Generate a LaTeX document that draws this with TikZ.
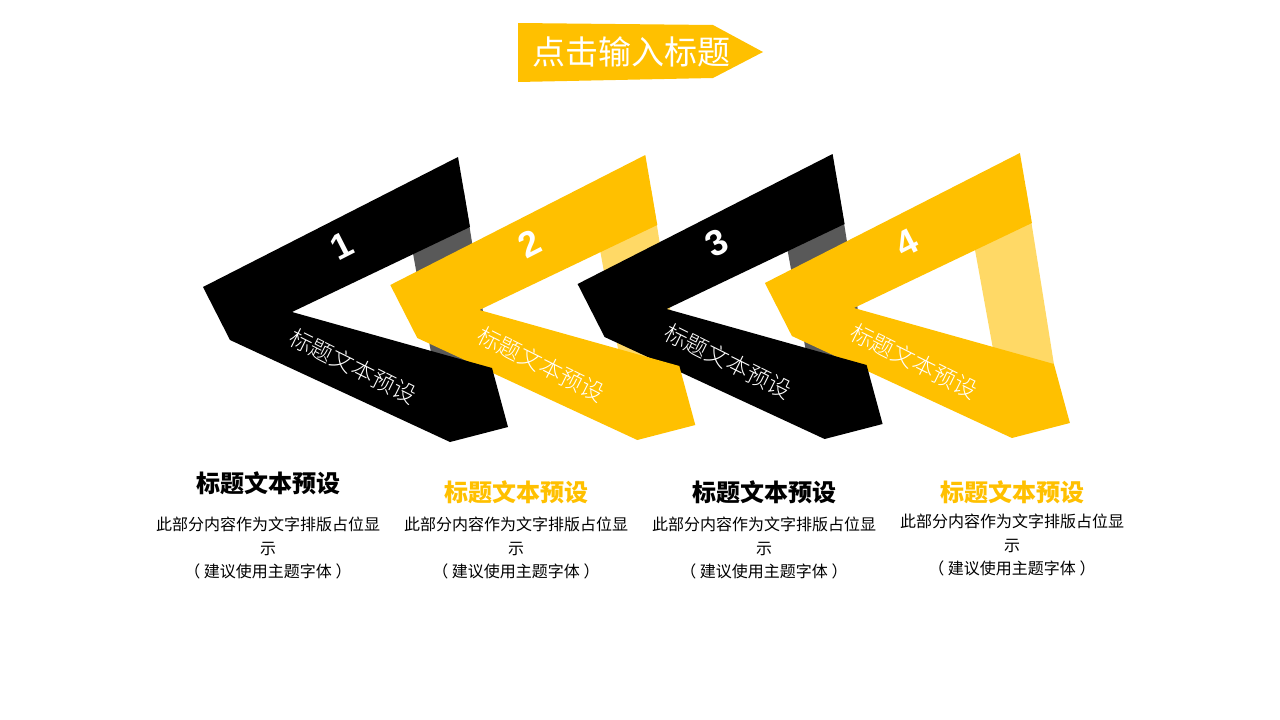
\documentclass[tikz,border=0pt]{standalone}
\usepackage{fontspec}
\newfontfamily\cjk{Noto Sans CJK SC}
\newfontfamily\cjklight{Noto Sans CJK SC Light}
\newfontfamily\digits{Liberation Sans}
\definecolor{gold}{HTML}{FFC000}
\definecolor{palegold}{HTML}{FFD966}
\definecolor{backgray}{HTML}{595959}

\begin{document}
\begin{tikzpicture}[x=1pt,y=-1pt,
        banner/.style={font=\cjk\fontsize{33}{33}\selectfont, text=white},
        number/.style={font=\digits\bfseries\fontsize{36}{36}\selectfont, text=white, rotate=27},
        band label/.style={font=\cjklight\fontsize{23}{23}\selectfont, text=white, rotate=-26.5},
        heading/.style={font=\cjk\bfseries\fontsize{24}{24}\selectfont},
        body/.style={font=\cjk\fontsize{16}{23.5}\selectfont, align=center},
        ]
    \useasboundingbox (0,0) rectangle (1280,720);
    % title banner
    \fill[gold] (518,23) -- (713,25) -- (763,52) -- (713,78) -- (518,82) -- cycle;
    \node (title) [banner] at (631,52) {点击输入标题};
    % back strips
    \foreach \i/\back/\dy in {0/backgray/0, 1/palegold/-2, 2/backgray/-3, 3/palegold/-4}
        \fill[\back, shift={(187.3*\i,\dy)}] (406,215) -- (464,192) -- (492,368) -- (436,380) -- cycle;
    % front arrows, the first one on top
    \foreach \i/\front/\dy in {3/gold/-4, 2/black/-3, 1/gold/-2, 0/black/0}
        \fill[\front, shift={(187.3*\i,\dy)}] (203,287) -- (458,157) -- (470,227) -- (292,312)
            -- (492,368) -- (508,427) -- (450,442) -- (230,340) -- cycle;
    % numbers
    \node (n1) [number] at (342,246) {1};
    \node (n2) [number] at (530,244) {2};
    \node (n3) [number] at (717,243) {3};
    \node (n4) [number] at (907,243) {4};
    % band labels
    \node (l1) [band label] at (353,366) {标题文本预设};
    \node (l2) [band label] at (541,364) {标题文本预设};
    \node (l3) [band label] at (728,361) {标题文本预设};
    \node (l4) [band label] at (914,361) {标题文本预设};
    % headings and texts
    \node (h1) [heading] at (268,483) {标题文本预设};
    \node (h2) [heading, text=gold] at (516,492) {标题文本预设};
    \node (h3) [heading] at (764,492) {标题文本预设};
    \node (h4) [heading, text=gold] at (1012,492) {标题文本预设};
    \node (t1) [body] at (268,548) {此部分内容作为文字排版占位显\\示\\（ 建议使用主题字体 ）};
    \node (t2) [body] at (516,548) {此部分内容作为文字排版占位显\\示\\（ 建议使用主题字体 ）};
    \node (t3) [body] at (764,548) {此部分内容作为文字排版占位显\\示\\（ 建议使用主题字体 ）};
    \node (t4) [body] at (1012,545) {此部分内容作为文字排版占位显\\示\\（ 建议使用主题字体 ）};
\end{tikzpicture}
\end{document}
